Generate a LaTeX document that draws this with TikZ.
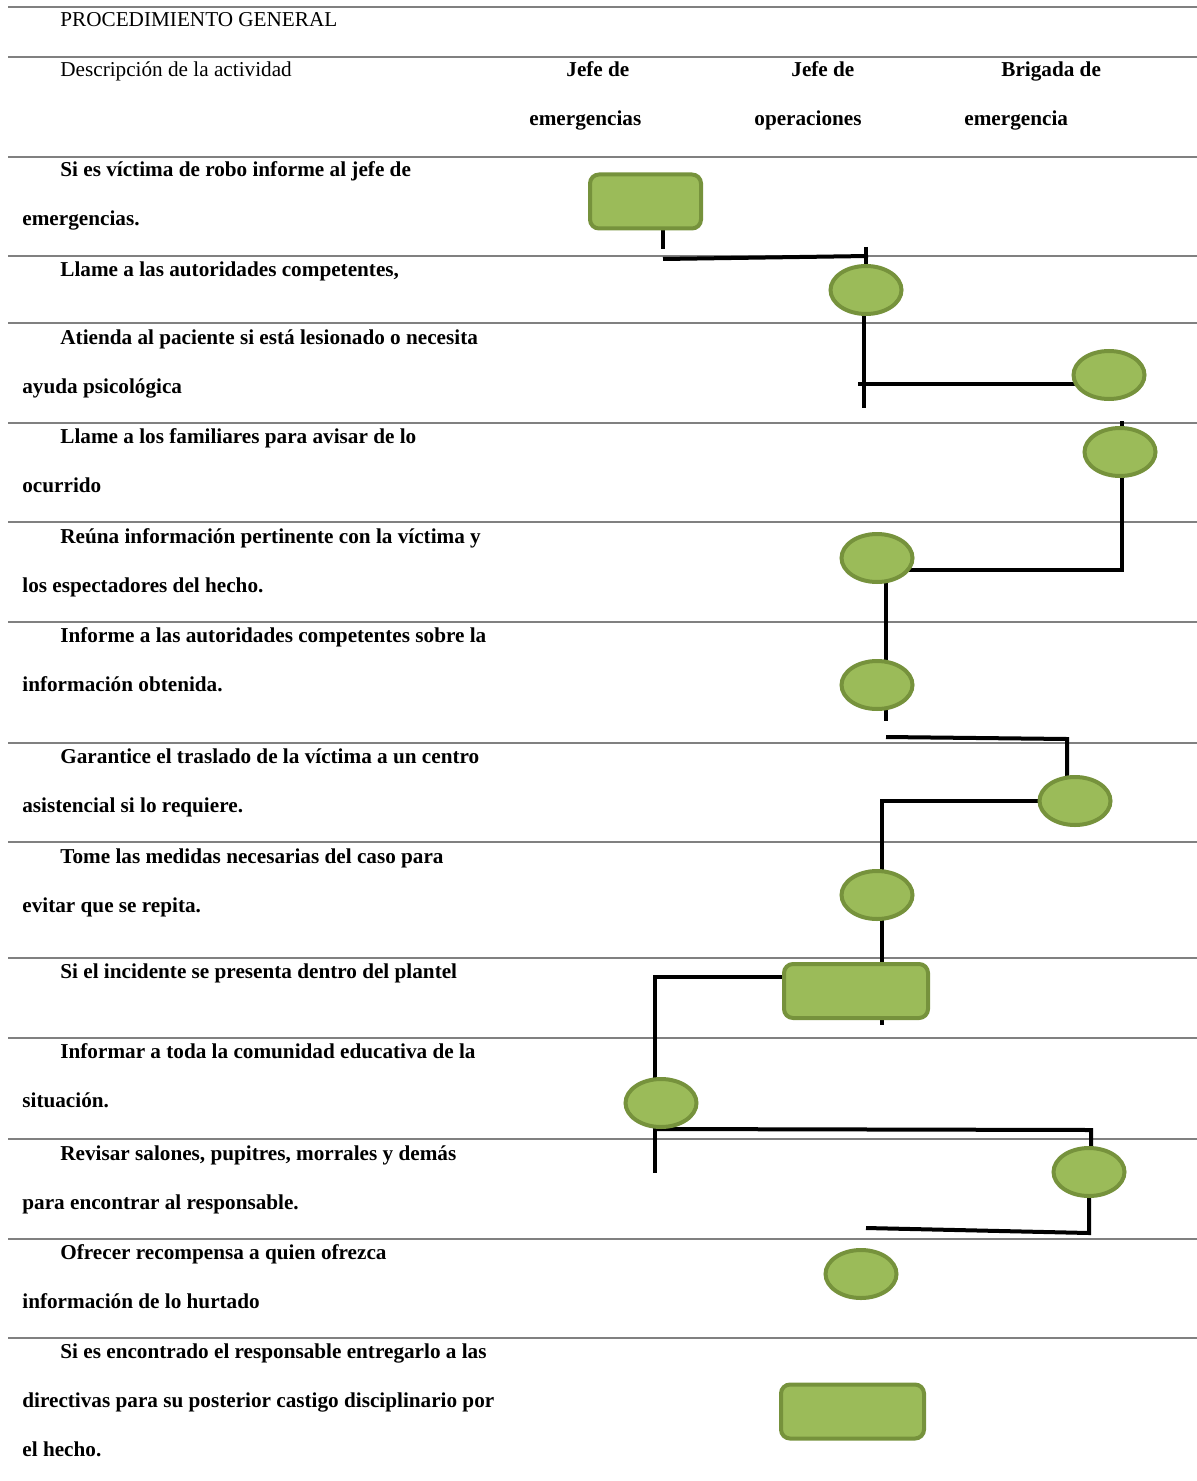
\documentclass[tikz,border=0pt]{standalone}
\usepackage{fontspec}
\setmainfont{Liberation Serif}
\usetikzlibrary{positioning, shapes.geometric, backgrounds}
\definecolor{verde}{HTML}{9BBB59}
\definecolor{verdeosc}{HTML}{76923C}
\definecolor{gris}{rgb}{0.5,0.5,0.5}

\begin{document}
\begin{tikzpicture}[
    x=0.5pt, y=-0.5pt,
    font=\fontsize{10.6}{24.5}\selectfont,
    % Styles
    regla/.style={draw=gris, line width=0.9pt},
    titulo/.style={anchor=base west, inner sep=0pt},
    actividad/.style={anchor=base west, inner sep=0pt, text width=270pt, align=flush left, font=\fontsize{10.6}{24.5}\selectfont\bfseries},
    cargo/.style={anchor=base west, inner sep=0pt, text width=100pt, align=flush left, font=\fontsize{10.6}{24.5}\selectfont\bfseries},
    proceso/.style={rectangle, rounded corners=4.5pt, draw=verdeosc, fill=verde, line width=2pt, minimum width=55.5pt, minimum height=27pt, inner sep=0pt},
    tarea/.style={ellipse, draw=verdeosc, fill=verde, line width=2pt, minimum width=35.5pt, minimum height=24pt, inner sep=0pt},
    conn/.style={draw=black, line width=2pt}
]
\useasboundingbox (0,0) rectangle (1197,1481);

% 1. ENCABEZADO
\node[titulo] (proc) at (60,27) {PROCEDIMIENTO GENERAL};
\node[titulo] (desc) at (60,77) {Descripción de la actividad};
\node[cargo] (jefe_em) at (529,77) {\hspace*{18.5pt}Jefe de\\emergencias};
\node[cargo] (jefe_op) at (754,77) {\hspace*{18.5pt}Jefe de\\operaciones};
\node[cargo] (brigada) at (964,77) {\hspace*{18.5pt}Brigada de\\emergencia};

% 2. ACTIVIDADES
\node[actividad] (act1) at (22,177) {\hspace*{19pt}Si es víctima de robo informe al jefe de\\emergencias.};
\node[actividad] (act2) at (22,277) {\hspace*{19pt}Llame a las autoridades competentes,};
\node[actividad] (act3) at (22,344) {\hspace*{19pt}Atienda al paciente si está lesionado o necesita\\ayuda psicológica};
\node[actividad] (act4) at (22,443) {\hspace*{19pt}Llame a los familiares para avisar de lo\\ocurrido};
\node[actividad] (act5) at (22,543) {\hspace*{19pt}Reúna información pertinente con la víctima y\\los espectadores del hecho.};
\node[actividad] (act6) at (22,642) {\hspace*{19pt}Informe a las autoridades competentes sobre la\\información obtenida.};
\node[actividad] (act7) at (22,763) {\hspace*{19pt}Garantice el traslado de la víctima a un centro\\asistencial si lo requiere.};
\node[actividad] (act8) at (22,863) {\hspace*{19pt}Tome las medidas necesarias del caso para\\evitar que se repita.};
\node[actividad] (act9) at (22,978) {\hspace*{19pt}Si el incidente se presenta dentro del plantel};
\node[actividad] (act10) at (22,1058) {\hspace*{19pt}Informar a toda la comunidad educativa de la\\situación.};
\node[actividad] (act11) at (22,1160) {\hspace*{19pt}Revisar salones, pupitres, morrales y demás\\para encontrar al responsable.};
\node[actividad] (act12) at (22,1259) {\hspace*{19pt}Ofrecer recompensa a quien ofrezca\\información de lo hurtado};
\node[actividad] (act13) at (22,1358) {\hspace*{19pt}Si es encontrado el responsable entregarlo a las\\directivas para su posterior castigo disciplinario por\\el hecho.};

% 3. FIGURAS
\node[proceso] (r1) at (645.5,201.5) {};
\node[tarea] (e2) at (866,290) {};
\node[tarea] (e3) at (1109,375) {};
\node[tarea] (e4) at (1120,452) {};
\node[tarea] (e5) at (877,558) {};
\node[tarea] (e6) at (877,685) {};
\node[tarea] (e7) at (1075,801) {};
\node[tarea] (e8) at (877,895) {};
\node[proceso, minimum width=72pt] (r9) at (856,991) {};
\node[tarea] (e10) at (661,1103) {};
\node[tarea] (e11) at (1089,1172) {};
\node[tarea] (e12) at (861,1274) {};
\node[proceso, minimum width=71.5pt] (r13) at (852.5,1411.5) {};

% 4. LINEAS DE LA TABLA Y CONECTORES
\begin{scope}[on background layer]
\foreach \y in {7,57,157,256,323,423,522,622,743,842,958,1038,1139,1239,1338}
    \draw[regla] (8,\y) -- (1197,\y);

\coordinate (a1) at (663,249);
\coordinate (a2) at (663,259);
\coordinate (a3) at (868,256);
\coordinate (a4) at (866,247);
\draw[conn] (r1.south -| a1) -- (a1);
\draw[conn] (a2) -- (a3);
\draw[conn] (a4) -- (e2);

\coordinate (b1) at (864,408);
\coordinate (b2) at (858,384);
\draw[conn] (e2 -| b1) -- (b1);
\draw[conn] (b2) -- (b2 -| e3);

\coordinate (c0) at (1122,421);
\coordinate (c1) at (1122,570);
\draw[conn] (c0) -- (c1) -- (c1 -| e5);

\coordinate (d1) at (886,721);
\coordinate (d2) at (886,737);
\coordinate (d3) at (1067,739);
\draw[conn] (e5 -| d1) -- (d1);
\draw[conn] (d2) -- (d3) -- (d3 |- e7);

\coordinate (f1) at (882,1025);
\draw[conn] (e7) -- (e7 -| f1) -- (f1);

\coordinate (g0) at (655,977);
\coordinate (g1) at (655,1173);
\draw[conn] (r9 |- g0) -- (g0) -- (g1);

\coordinate (h1) at (1091,1130);
\draw[conn] (e10.south -| g1) -- (h1) -- (h1 |- e11);

\coordinate (k1) at (1092,1233);
\coordinate (k2) at (866,1228);
\draw[conn] (e11) -- (e11 |- k1) -- (k2);
\end{scope}

\end{tikzpicture}
\end{document}
